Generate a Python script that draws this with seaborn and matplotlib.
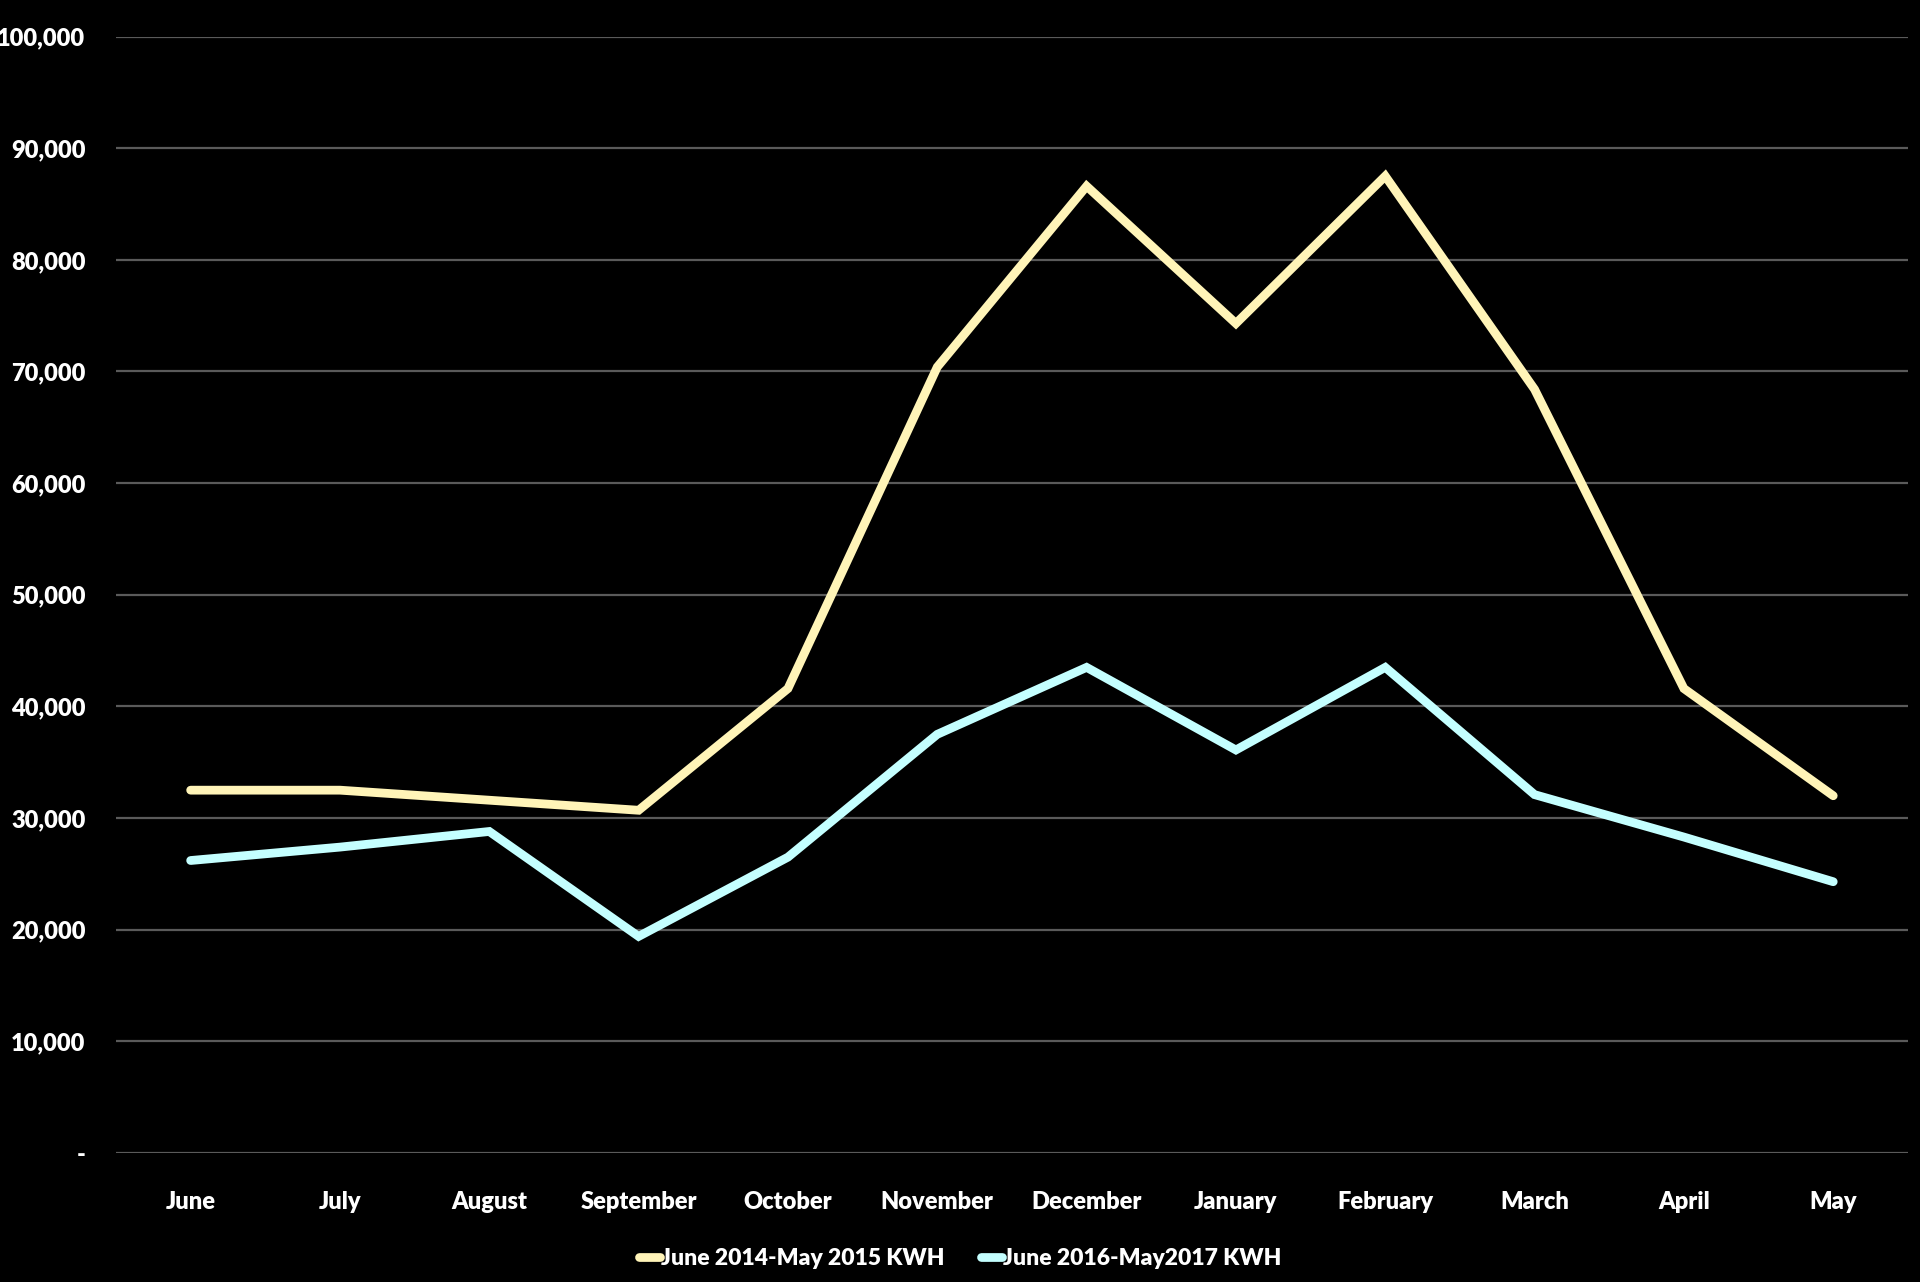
import pandas as pd
import matplotlib
matplotlib.use('Agg')
import matplotlib.pyplot as plt
import seaborn as sns
from matplotlib.ticker import FuncFormatter

# Monthly kWh use, two billing years
months = ['June', 'July', 'August', 'September', 'October', 'November',
          'December', 'January', 'February', 'March', 'April', 'May']
kwh_2014_2015 = [32500, 32500, 31600, 30700, 41600, 70400,
                 86600, 74300, 87500, 68400, 41600, 32000]
kwh_2016_2017 = [26200, 27400, 28800, 19400, 26500, 37500,
                 43500, 36100, 43500, 32100, 28300, 24300]
series_names = ['June 2014-May 2015 KWH', 'June 2016-May2017 KWH']
series_colors = ['#FFF4B8', '#C4FFFF']

df = pd.concat([
    pd.DataFrame({'month': months, 'kwh': kwh_2014_2015, 'series': series_names[0]}),
    pd.DataFrame({'month': months, 'kwh': kwh_2016_2017, 'series': series_names[1]}),
])

sns.set_style('dark')
plt.rcParams['font.family'] = ['Lato', 'DejaVu Sans']
plt.rcParams['font.weight'] = 'bold'

fig = plt.figure(figsize=(19.2, 12.82), dpi=100, facecolor='black')
ax = fig.add_axes([0.0604, 0.1006, 0.9333, 0.8709])
ax.set_facecolor('black')

sns.lineplot(data=df, x='month', y='kwh', hue='series', palette=series_colors,
             sort=False, linewidth=6.3, ax=ax, legend=False)
for line in ax.get_lines():
    line.set_solid_capstyle('round')
    line.set_solid_joinstyle('miter')

ax.set_xlim(-0.5, 11.5)
ax.set_ylim(0, 100000)
ax.set_yticks(range(0, 100001, 10000))
ax.yaxis.set_major_formatter(FuncFormatter(lambda v, p: '-' if v == 0 else f'{int(v):,}'))
ax.grid(axis='y', color='#5a5a5a', linewidth=1.6)
ax.grid(axis='x', visible=False)
for s in ax.spines.values():
    s.set_visible(False)
ax.tick_params(axis='both', length=0, colors='white', labelsize=17)
ax.tick_params(axis='y', pad=22)
ax.tick_params(axis='x', pad=27)
for lbl in ax.get_xticklabels() + ax.get_yticklabels():
    lbl.set_fontweight('heavy')
ax.set_xlabel('')
ax.set_ylabel('')

handles = [plt.Line2D([], [], color=c, linewidth=6.3, solid_capstyle='round')
           for c in series_colors]
leg = fig.legend(handles, series_names, loc='center', bbox_to_anchor=(0.5, 0.018),
                 ncol=2, frameon=False, fontsize=16.5, handlelength=0.9,
                 handletextpad=0.05, columnspacing=1.6)
for t in leg.get_texts():
    t.set_color('white')
    t.set_fontweight('heavy')

fig.savefig('out.png', dpi=100, facecolor='black')
